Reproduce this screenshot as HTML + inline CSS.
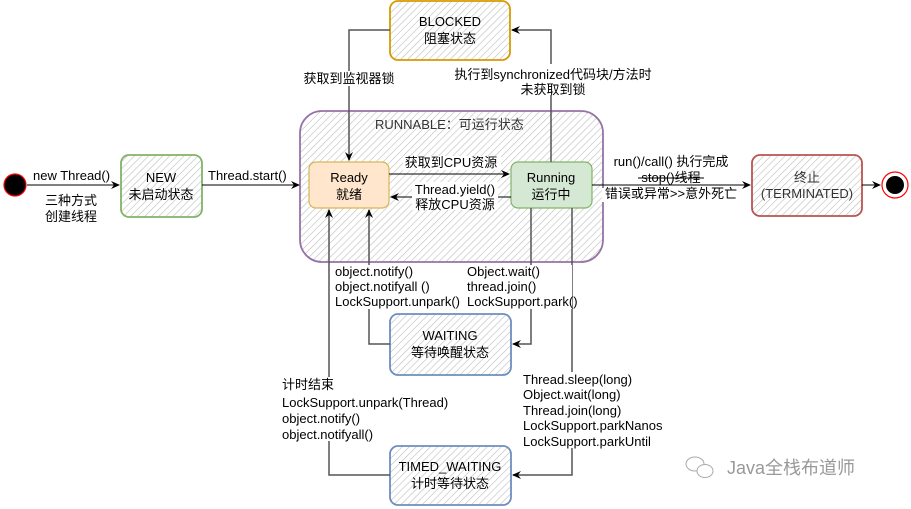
<!DOCTYPE html>
<html><head><meta charset="utf-8"><style>
html,body{margin:0;padding:0;background:#fff;}
svg{display:block;}
text{font-family:"Liberation Sans","Noto Sans CJK SC",sans-serif;font-size:13px;fill:#000;}
</style></head><body>
<svg width="911" height="509" viewBox="0 0 911 509" xmlns="http://www.w3.org/2000/svg">
<defs>
<pattern id="h" width="5" height="5" patternUnits="userSpaceOnUse" patternTransform="rotate(45)">
<line x1="0" y1="0" x2="0" y2="5" stroke="#bdbdbd" stroke-width="1.2"/>
</pattern>
<marker id="a" markerWidth="10" markerHeight="10" refX="8" refY="5" orient="auto" markerUnits="userSpaceOnUse">
<path d="M0,1 L9,5 L0,9 L3,5 Z" fill="#000"/>
</marker>
</defs>

<rect x="300" y="111" width="303" height="151" rx="22" fill="url(#h)" stroke="#9673a6" stroke-width="1.8"/>
<text x="375" y="129" style="fill:#333">RUNNABLE：可运行状态</text>

<rect x="390" y="1" width="120" height="59" rx="8" fill="url(#h)" stroke="#d79b00" stroke-width="1.8"/>
<text x="450" y="26" text-anchor="middle">BLOCKED</text>
<text x="450" y="43" text-anchor="middle">阻塞状态</text>

<rect x="121" y="155" width="81" height="62" rx="8" fill="url(#h)" stroke="#82b366" stroke-width="1.8"/>
<text x="161" y="182" text-anchor="middle">NEW</text>
<text x="161" y="199" text-anchor="middle">未启动状态</text>

<rect x="752" y="155" width="110" height="61" rx="8" fill="url(#h)" stroke="#b85450" stroke-width="1.8"/>
<text x="807" y="182" text-anchor="middle" style="fill:#333">终止</text>
<text x="807" y="198" text-anchor="middle" style="fill:#333">(TERMINATED)</text>

<rect x="390" y="314" width="121" height="61" rx="8" fill="url(#h)" stroke="#6c8ebf" stroke-width="1.8"/>
<text x="450" y="340" text-anchor="middle">WAITING</text>
<text x="450" y="357" text-anchor="middle">等待唤醒状态</text>

<rect x="390" y="446" width="121" height="59" rx="8" fill="url(#h)" stroke="#6c8ebf" stroke-width="1.8"/>
<text x="450" y="471" text-anchor="middle">TIMED_WAITING</text>
<text x="450" y="488" text-anchor="middle">计时等待状态</text>

<rect x="309" y="162" width="80" height="46" rx="7" fill="#ffe6cc" stroke="#d6b656" stroke-width="1.2"/>
<text x="349" y="182" text-anchor="middle">Ready</text>
<text x="349" y="199" text-anchor="middle">就绪</text>
<rect x="511" y="162" width="81" height="46" rx="7" fill="#d5e8d4" stroke="#82b366" stroke-width="1.2"/>
<text x="551" y="182" text-anchor="middle">Running</text>
<text x="551" y="199" text-anchor="middle">运行中</text>

<circle cx="15" cy="185" r="11" fill="#000" stroke="#f00" stroke-width="1.2"/>
<circle cx="895" cy="185" r="13" fill="#fff" stroke="#f00" stroke-width="1.2"/>
<circle cx="895" cy="185" r="9" fill="#000"/>

<g stroke="#000" stroke-width="1" fill="none">
<line x1="27" y1="185" x2="119" y2="185" marker-end="url(#a)"/>
<line x1="202" y1="185" x2="299" y2="185" marker-end="url(#a)"/>
<line x1="389" y1="174" x2="509" y2="174" marker-end="url(#a)"/>
<line x1="511" y1="197" x2="391" y2="197" marker-end="url(#a)"/>
<line x1="592" y1="185" x2="750" y2="185" marker-end="url(#a)"/>
<line x1="862" y1="185" x2="880" y2="185" marker-end="url(#a)"/>
</g>
<g stroke="#555" stroke-width="1.5" fill="none">
<polyline points="390,30 349,30 349,160" marker-end="url(#a)"/>
<polyline points="551,162 551,30 512,30" marker-end="url(#a)"/>
<polyline points="390,344 369,344 369,210" marker-end="url(#a)"/>
<polyline points="390,475 329,475 329,210" marker-end="url(#a)"/>
<polyline points="531,208 531,344 513,344" marker-end="url(#a)"/>
<polyline points="572,208 572,475 513,475" marker-end="url(#a)"/>
</g>

<g fill="#fff">
<rect x="302" y="71" width="94" height="15"/>
<rect x="450" y="64" width="210" height="31"/>
<rect x="334" y="265" width="120" height="44"/>
<rect x="466" y="265" width="106" height="44"/>
<rect x="281" y="377" width="170" height="64"/>
<rect x="522" y="372" width="142" height="76"/>
<rect x="403" y="156" width="98" height="14"/>
<rect x="412" y="182" width="86" height="28"/>
<rect x="610" y="155" width="128" height="14"/>
<rect x="602" y="188" width="138" height="14"/>
</g>
<text x="33" y="180">new Thread()</text>
<text x="71" y="205" text-anchor="middle">三种方式</text>
<text x="71" y="221" text-anchor="middle">创建线程</text>
<text x="208" y="180">Thread.start()</text>
<text x="349" y="83" text-anchor="middle">获取到监视器锁</text>
<text x="553" y="79" text-anchor="middle">执行到synchronized代码块/方法时</text>
<text x="553" y="94" text-anchor="middle">未获取到锁</text>
<text x="451" y="167" text-anchor="middle">获取到CPU资源</text>
<text x="455" y="194" text-anchor="middle">Thread.yield()</text>
<text x="455" y="209" text-anchor="middle">释放CPU资源</text>
<text x="671" y="166" text-anchor="middle">run()/call() 执行完成</text>
<text x="671" y="182" text-anchor="middle">stop()线程</text>
<text x="671" y="198" text-anchor="middle">错误或异常&gt;&gt;意外死亡</text>
<line x1="638" y1="178" x2="704" y2="178" stroke="#000" stroke-width="1"/>
<text x="335" y="276">object.notify()</text>
<text x="335" y="291">object.notifyall ()</text>
<text x="335" y="306">LockSupport.unpark()</text>
<text x="467" y="276">Object.wait()</text>
<text x="467" y="291">thread.join()</text>
<text x="467" y="306">LockSupport.park()</text>
<text x="282" y="389">计时结束</text>
<text x="282" y="407">LockSupport.unpark(Thread)</text>
<text x="282" y="423">object.notify()</text>
<text x="282" y="439">object.notifyall()</text>
<text x="523" y="384">Thread.sleep(long)</text>
<text x="523" y="399">Object.wait(long)</text>
<text x="523" y="415">Thread.join(long)</text>
<text x="523" y="430">LockSupport.parkNanos</text>
<text x="523" y="446">LockSupport.parkUntil</text>

<g stroke="#aaa" fill="#fff" stroke-width="1">
<ellipse cx="695" cy="464" rx="9" ry="7"/>
<ellipse cx="705" cy="471" rx="8" ry="6.5"/>
</g>
<text x="727" y="474" style="fill:#999;font-size:18px">Java全栈布道师</text>
</svg>
</body></html>
